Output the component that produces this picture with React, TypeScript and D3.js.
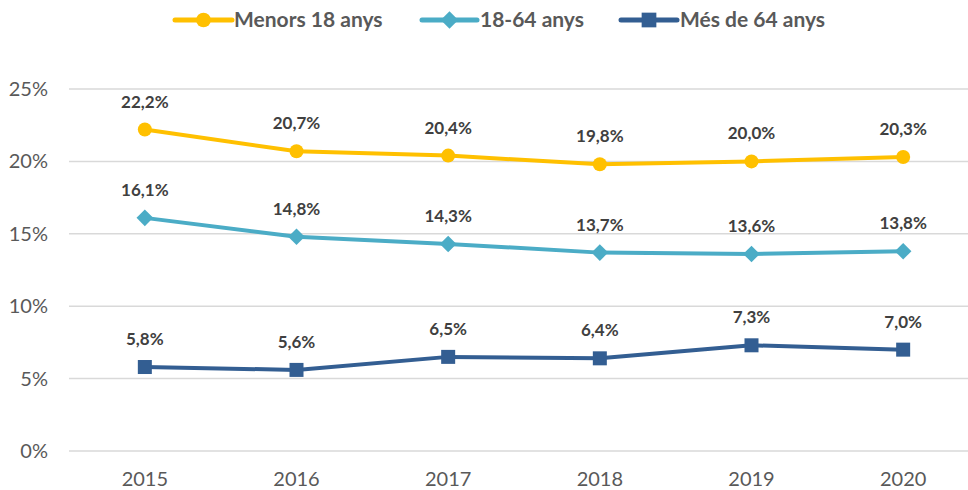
import React from "react";
import * as d3 from "d3";

const years = ["2015", "2016", "2017", "2018", "2019", "2020"];
const menors = [22.2, 20.7, 20.4, 19.8, 20.0, 20.3];
const adults = [16.1, 14.8, 14.3, 13.7, 13.6, 13.8];
const grans = [5.8, 5.6, 6.5, 6.4, 7.3, 7.0];
const yTicks = [0, 5, 10, 15, 20, 25];
const seriesNames = ["Menors 18 anys", "18-64 anys", "Més de 64 anys"];

const W = 968;
const H = 490;
const FONT = "Lato, 'Open Sans', sans-serif";

export default function App() {
  const x = d3.scaleBand<string>().domain(years).range([69, 979]);
  const y = d3.scaleLinear().domain([0, 25]).range([451, 89]);
  const cx = (yr: string) => (x(yr) as number) + x.bandwidth() / 2;
  const line = d3
    .line<number>()
    .x((_, i) => cx(years[i]))
    .y((d) => y(d));

  const series = [
    { name: seriesNames[0], data: menors, color: "#FFC000", marker: "circle" },
    { name: seriesNames[1], data: adults, color: "#4BACC6", marker: "diamond" },
    { name: seriesNames[2], data: grans, color: "#335E92", marker: "square" },
  ];

  const fmt = (v: number) => v.toFixed(1).replace(".", ",") + "%";

  const marker = (kind: string, px: number, py: number, color: string, key: string, s = 1) => {
    if (kind === "circle") return <circle key={key} cx={px} cy={py} r={7 * s} fill={color} />;
    if (kind === "diamond") {
      const r = 8.3 * s;
      return (
        <path
          key={key}
          d={`M${px},${py - r}L${px + r},${py}L${px},${py + r}L${px - r},${py}Z`}
          fill={color}
        />
      );
    }
    const h = 7 * s;
    return <rect key={key} x={px - h} y={py - h} width={2 * h} height={2 * h} fill={color} />;
  };

  const legendPos = [
    { x1: 175, x2: 232, tx: 234 },
    { x1: 422, x2: 477, tx: 480 },
    { x1: 621, x2: 677, tx: 680 },
  ];

  return (
    <svg width={W} height={H} style={{ position: "absolute", left: 0, top: 0 }} fontFamily={FONT}>
      <rect width={W} height={H} fill="#fff" />
      {yTicks.map((t) => (
        <g key={t}>
          <line x1={69} x2={968} y1={y(t)} y2={y(t)} stroke="#d9d9d9" strokeWidth={1.5} />
          <text x={48} y={y(t)} dy="0.35em" textAnchor="end" fontSize={20} fill="#595959">
            {t}%
          </text>
        </g>
      ))}
      {years.map((yr) => (
        <text key={yr} x={cx(yr)} y={486} textAnchor="middle" fontSize={20} fill="#595959">
          {yr}
        </text>
      ))}
      {series.map((s) => (
        <g key={s.name}>
          <path d={line(s.data) || ""} fill="none" stroke={s.color} strokeWidth={4} strokeLinejoin="round" />
          {s.data.map((v, i) => marker(s.marker, cx(years[i]), y(v), s.color, s.name + i))}
          {s.data.map((v, i) => (
            <text
              key={"l" + i}
              x={cx(years[i])}
              y={y(v) - 22}
              textAnchor="middle"
              fontSize={17}
              fontWeight="bold"
              fill="#404040"
            >
              {fmt(v)}
            </text>
          ))}
        </g>
      ))}
      {series.map((s, i) => {
        const p = legendPos[i];
        return (
          <g key={"lg" + i}>
            <line x1={p.x1} x2={p.x2} y1={20} y2={20} stroke={s.color} strokeWidth={5} strokeLinecap="round" />
            {marker(s.marker, (p.x1 + p.x2) / 2, 20, s.color, "lm" + i, 1.05)}
            <text x={p.tx} y={20} dy="0.35em" fontSize={21} fontWeight="bold" fill="#595959">
              {s.name}
            </text>
          </g>
        );
      })}
    </svg>
  );
}
